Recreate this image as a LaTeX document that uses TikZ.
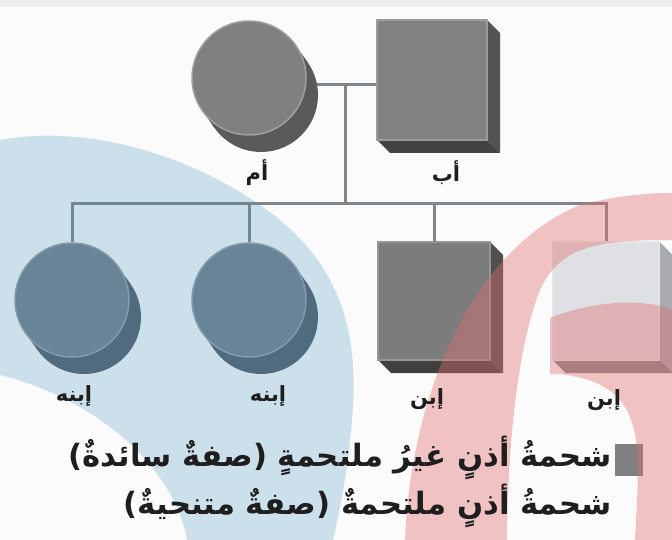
\documentclass[tikz,border=0pt]{standalone}
\usepackage{fontspec}
\newfontfamily\arabicfont[Script=Arabic]{DejaVu Sans}
\TeXXeTstate=1
\usetikzlibrary{calc}
\definecolor{bgc}{RGB}{251,251,251}
\definecolor{linec}{RGB}{128,134,138}
\definecolor{momf}{RGB}{128,128,128}
\definecolor{moms}{RGB}{90,90,90}
\definecolor{dauf}{RGB}{118,128,138}
\definecolor{daus}{RGB}{84,94,104}
\definecolor{dadf}{RGB}{130,130,130}
\definecolor{dads}{RGB}{84,84,84}
\definecolor{sonf}{RGB}{124,124,124}
\definecolor{sons}{RGB}{80,80,80}
\definecolor{lsonf}{RGB}{222,224,227}
\definecolor{lsons}{RGB}{168,170,174}
\definecolor{wmblue}{RGB}{70,147,190}
\definecolor{wmpink}{RGB}{224,110,110}
\definecolor{txt}{RGB}{30,30,30}
\pgfdeclarelayer{bgl}
\pgfdeclarelayer{lines}
\pgfdeclarelayer{wm}
\pgfdeclarelayer{toplayer}
\pgfsetlayers{bgl,lines,main,wm,toplayer}
\tikzset{
  discface/.style={circle, minimum size=114pt, inner sep=0pt, draw=#1!75!white, line width=1.5pt, fill=#1},
  boxface/.style={rectangle, inner sep=0pt, draw=#1!80!white, line width=1.2pt, fill=#1},
  conn/.style={draw=linec, line width=3pt},
  lbl/.style={text=txt, font=\arabicfont\bfseries\fontsize{21}{24}\selectfont, inner sep=0pt},
  legtext/.style={text=txt, font=\arabicfont\bfseries\fontsize{30.7}{34}\selectfont, inner sep=0pt, anchor=east},
}
\newcommand\mydisc[5]{%
  \fill[#5] ($(#2,#3)+(12,17)$) circle[radius=57pt];
  \draw[#5, line width=114pt] (#2,#3) -- ++(12,17);
  \node[discface=#4] (#1) at (#2,#3) {};
}
\newcommand\mybox[7]{%
  \pgfmathsetmacro\myxa{#2-#4/2}\pgfmathsetmacro\myxb{#2+#4/2}%
  \pgfmathsetmacro\myya{#3-#5/2}\pgfmathsetmacro\myyb{#3+#5/2}%
  \fill[#7] (\myxb,\myya) -- (\myxb+13,\myya+13) -- (\myxb+13,\myyb+13) -- (\myxb,\myyb) -- cycle;
  \fill[#7!80!black] (\myxa,\myyb) -- (\myxb,\myyb) -- (\myxb+13,\myyb+13) -- (\myxa+13,\myyb+13) -- cycle;
  \node[boxface=#6, minimum width=#4pt, minimum height=#5pt] (#1) at (#2,#3) {};
}
\begin{document}
\begin{tikzpicture}[x=1pt,y=-1pt]
\useasboundingbox (0,0) rectangle (672,540);
\begin{pgfonlayer}{bgl}
  \fill[bgc] (0,0) rectangle (672,540);
  \fill[black!7] (0,0) rectangle (672,7);
\end{pgfonlayer}

% shapes
\mydisc{mom}{249}{78}{momf}{moms}
\mybox{dad}{432}{80}{110}{120}{dadf}{dads}
\mydisc{d1}{72}{300}{dauf}{daus}
\mydisc{d2}{249}{300}{dauf}{daus}
\mybox{s1}{434}{301}{112}{118}{sonf}{sons}
\mybox{s2}{606}{301}{107}{118}{lsonf}{lsons}
\node[rectangle, fill=momf, minimum width=28pt, minimum height=32pt, inner sep=0pt] (key) at (629,460) {};

% connectors
\coordinate (mid) at (345,85);
\coordinate (sib) at (345,204);
\begin{pgfonlayer}{lines}
  \draw[conn] (mom.center |- mid) -- (dad.center |- mid);
  \draw[conn] (mid) -- (sib);
  \draw[conn] (sib) -| (d1.north);
  \draw[conn] (sib) -| (d2.north);
  \draw[conn] (sib) -| (s1.north);
  \draw[conn] (sib) -| (s2.north);
\end{pgfonlayer}

% watermark
\begin{pgfonlayer}{wm}
  \fill[wmblue, opacity=0.26]
    (0,140) .. controls (80,125) and (180,150) .. (260,205)
    .. controls (340,260) and (360,330) .. (352,420)
    .. controls (348,470) and (340,510) .. (333,540)
    -- (187,540) .. controls (175,470) and (100,400) .. (0,375) -- cycle;
  \fill[wmpink, opacity=0.4]
    (405,540) .. controls (410,400) and (470,250) .. (580,205)
    .. controls (620,195) and (650,193) .. (672,193) -- (672,240)
    .. controls (600,240) and (560,245) .. (540,290)
    .. controls (520,340) and (508,430) .. (507,540) -- cycle;
  \fill[wmpink, opacity=0.4]
    (550,318) .. controls (600,298) and (650,300) .. (672,310) -- (672,540) -- (635,540)
    .. controls (640,440) and (648,385) .. (560,374) -- (550,374) -- cycle;
\end{pgfonlayer}

% labels
\begin{pgfonlayer}{toplayer}
  \node[lbl] (lmom) at (257,173) {أم};
  \node[lbl] (ldad) at (446,173) {أب};
  \node[lbl] (ld1) at (74,396) {إبنه};
  \node[lbl] (ld2) at (268,396) {إبنه};
  \node[lbl] (ls1) at (427,399) {إبن};
  \node[lbl] (ls2) at (604,400) {إبن};
  \node[legtext] (leg1) at (612,458) {\beginR شحمةُ أذنٍ غيرُ ملتحمةٍ (صفةٌ سائدةٌ)\endR};
  \node[legtext] (leg2) at (612,506) {\beginR شحمةُ أذنٍ ملتحمةٌ (صفةٌ متنحيةٌ)\endR};
\end{pgfonlayer}
\end{tikzpicture}
\end{document}
